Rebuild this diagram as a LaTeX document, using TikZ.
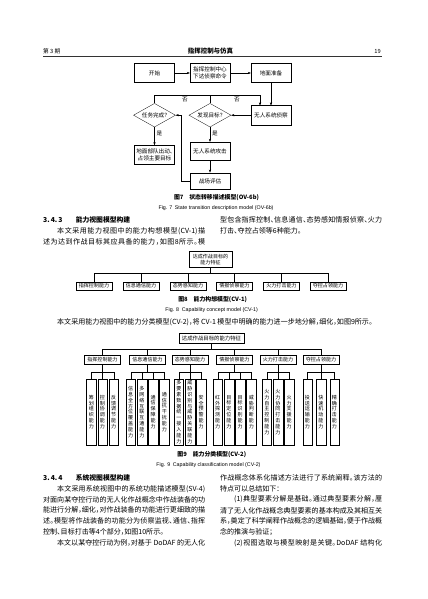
\documentclass[tikz,border=0pt]{standalone}
\usepackage{fontspec}
\setmainfont{Noto Sans CJK SC}[RawFeature=+halt]
\newfontfamily\enfont{Liberation Sans}
\usetikzlibrary{arrows.meta,shapes.geometric}
% stretchable glue between CJK characters, so that single lines can be justified
\XeTeXinterchartokenstate=1
\count255="3000
\loop\XeTeXcharclass\count255=8 \ifnum\count255<"303F \advance\count255 by 1 \repeat
\count255="4E00
\loop\XeTeXcharclass\count255=8 \ifnum\count255<"9FFF \advance\count255 by 1 \repeat
\count255="FF01
\loop\XeTeXcharclass\count255=8 \ifnum\count255<"FF5E \advance\count255 by 1 \repeat
\XeTeXinterchartoks 8 8 = {\hskip 0pt plus 1.5pt minus 0.2pt\relax}
\XeTeXinterchartoks 8 0 = {\hskip 0pt plus 1.5pt minus 0.2pt\relax}
\XeTeXinterchartoks 0 8 = {\hskip 0pt plus 1.5pt minus 0.2pt\relax}
\newlength\colw
\setlength\colw{79.4mm}
\newcommand\jl[1]{\hbox to \colw{#1}}
\newcommand\jli[1]{\hbox to \colw{\hskip2em#1}}
\makeatletter
\newcommand\vstack[1]{\expandafter\vst@ck#1\@nil}
\def\vst@ck#1#2\@nil{#1\ifx\relax#2\relax\else\\\vst@ck#2\@nil\fi}
\makeatother

\begin{document}
\begin{tikzpicture}[x=0.49mm, y=-0.49mm,
    conn/.style={draw=black, line width=0.4pt},
    arr/.style={conn, -{Stealth[length=1.5mm, width=1.1mm]}},
    proc/.style={draw=black, line width=0.4pt, minimum width=19.6mm, minimum height=9.4mm,
                 inner sep=1pt, align=center, font=\fontsize{7.8pt}{9.4pt}\selectfont},
    dec/.style={diamond, aspect=1.75, draw=black, line width=0.4pt, minimum width=20.6mm,
                minimum height=11.6mm, inner sep=0pt, font=\fontsize{7.8pt}{9pt}\selectfont},
    lab/.style={inner sep=0pt, font=\fontsize{7.8pt}{9pt}\selectfont},
    capbox/.style={draw=black, line width=0.4pt, minimum width=17.6mm, minimum height=4.2mm,
                inner sep=0.5pt, align=center, font=\fontsize{7pt}{8.4pt}\selectfont},
    leaf/.style={draw=black, line width=0.4pt, minimum width=4.65mm, minimum height=32.3mm,
                 inner sep=0pt, text width=7.5pt, align=center, font=\fontsize{7pt}{8.2pt}\selectfont},
    body/.style={anchor=west, inner sep=0pt, font=\fontsize{9.8pt}{11pt}\selectfont},
    head/.style={anchor=west, inner sep=0pt, font=\fontsize{9.5pt}{11pt}\selectfont\bfseries},
    figzh/.style={inner sep=0pt, font=\fontsize{8.2pt}{9pt}\selectfont\bfseries},
    figen/.style={inner sep=0pt, font=\enfont\fontsize{7.4pt}{9pt}\selectfont},
    hdr/.style={inner sep=0pt, font=\fontsize{8pt}{9pt}\selectfont}]
  \useasboundingbox (0,0) rectangle (427,599);
  % running head
  \node[hdr, anchor=west] (issue) at (43,51) {第 3 期};
  \node[hdr, font=\fontsize{9pt}{10pt}\selectfont\bfseries] (journal) at (210.5,51) {指挥控制与仿真};
  \node[hdr, anchor=east] (pageno) at (381,51) {19};
  \draw[line width=1pt, black!80] (43,56) -- (382,56);

  % fig 7: state transitions
  \node[proc] (start) at (154.5,73) {开始};
  \node[proc] (order) at (210,73) {指挥控制中心\\下达侦察命令};
  \node[proc] (prep) at (271,73) {地面准备};
  \node[proc] (recon) at (271,115.2) {无人系统侦察};
  \node[dec] (found) at (210,115.2) {发现目标？};
  \node[dec] (done) at (154.5,115.2) {任务完成？};
  \node[proc] (occupy) at (154.5,155) {地面部队出动、\\占领主要目标};
  \node[proc, minimum height=8.8mm] (strike) at (210,151) {无人系统攻击};
  \node[proc, minimum height=8.1mm] (assess) at (210,181) {战场评估};
  \draw[arr] (start) -- (order);
  \draw[arr] (order) -- (prep);
  \draw[arr] (prep) -- (recon);
  \draw[arr] (recon) -- (found);
  \coordinate (noR) at (260,95);
  \draw[arr] (done.north) |- (noR) -- (noR |- recon.north);
  \draw[conn] (found.north) -- (found.north |- noR);
  \draw[arr] (done) -- (occupy);
  \draw[arr] (found) -- (strike);
  \draw[arr] (strike) -- (assess);
  \coordinate (back) at (181,0);
  \draw[arr] (assess.west) -| (back |- done.east) -- (done.east);
  \node[lab] (no1) at (185,100) {否};
  \node[lab] (no2) at (237,100) {否};
  \node[lab] (yes1) at (159.5,133) {是};
  \node[lab] (yes2) at (215,133) {是};
  \node[figzh] (cap7) at (216.5,197.3) {图7\quad 状态转移描述模型(OV-6b)};
  \node[figen] (cap7e) at (216,207.7) {Fig. 7\enspace State transition description model (OV-6b)};

  % 3.4.3
  \node[head] (h343) at (43,220) {\makebox[16mm][l]{3.\,4.\,3}能力视图模型构建};
  \node[body] (a1) at (43,231) {\jli{本文采用能力视图中的能力构想模型(CV-1)描}};
  \node[body] (a2) at (43,242) {\jl{述为达到作战目标其应具备的能力，如图8所示。模}};
  \node[body] (b1) at (220,220) {\jl{型包含指挥控制、信息通信、态势感知情报侦察、火力}};
  \node[body] (b2) at (220,231) {打击、夺控占领等6种能力。};

  % fig 8: capability concept
  \node[capbox, minimum width=21mm, minimum height=7.8mm] (goal8) at (210.5,259.3) {达成作战目标的\\能力特征};
  \coordinate (bus8) at (210.5,273.3);
  \draw[conn] (goal8) -- (bus8);
  \foreach \n/\x/\lbl in {c1/94/指挥控制能力, c2/141/信息通信能力, c3/188/态势感知能力,
                          c4/234.5/情报侦察能力, c5/281.5/火力打击能力, c6/328/夺控占领能力} {
    \node[capbox] (\n) at (\x,286) {\lbl};
    \draw[conn] (bus8) -| (\n.north);
  }
  \node[figzh] (cap8) at (212.7,299.3) {图8\quad 能力构想模型(CV-1)};
  \node[figen] (cap8e) at (211.7,310) {Fig. 8\enspace Capability concept model (CV-1)};

  \node[body] (m1) at (43,322) {\hspace{2em}本文采用能力视图中的能力分类模型(CV-2)，将 CV-1 模型中明确的能力进一步地分解，细化，如图9所示。};

  % fig 9: capability classification
  \node[capbox, minimum width=31.9mm, minimum height=5.2mm, font=\fontsize{7.5pt}{9pt}\selectfont] (goal9) at (211.5,338) {达成作战目标的能力特征};
  \coordinate (bus9) at (211.5,349.3);
  \draw[conn] (goal9) -- (bus9);
  \foreach \n/\x/\lbl in {zh/102.5/指挥控制能力, tx/147.5/信息通信能力, ts/190/态势感知能力,
                          qb/234.5/情报侦察能力, hl/278/火力打击能力, dk/321/夺控占领能力} {
    \node[capbox, minimum height=4.55mm] (\n) at (\x,359.7) {\lbl};
    \draw[conn] (bus9) -| (\n.north);
    \draw[conn] (\n.south) -- ++(0,7.4) coordinate (\n0);
  }
  \foreach \lbl [count=\i] in {筹划组织能力, 控制协调能力, 反馈调节能力}
    { \node[leaf] (zh\i) at ({102.5+(\i-2)*11.2},412) {\vstack{\lbl}}; \draw[conn] (zh0) -| (zh\i.north); }
  \foreach \lbl [count=\i] in {信息全方位覆盖能力, 多网络互联互通能力, 通信保障能力, 通信抗干扰能力}
    { \node[leaf] (tx\i) at ({147.5+(\i-2.5)*11.2},412) {\vstack{\lbl}}; \draw[conn] (tx0) -| (tx\i.north); }
  \foreach \lbl [count=\i] in {多要素数据统一接入能力, 威胁识别与威胁关联能力, 安全预警能力}
    { \node[leaf] (ts\i) at ({190+(\i-2)*11.2},412) {\vstack{\lbl}}; \draw[conn] (ts0) -| (ts\i.north); }
  \foreach \lbl [count=\i] in {红外探测能力, 目标定位能力, 目标识别能力, 威胁判断能力}
    { \node[leaf] (qb\i) at ({234.5+(\i-2.5)*11.2},412) {\vstack{\lbl}}; \draw[conn] (qb0) -| (qb\i.north); }
  \foreach \lbl [count=\i] in {火力自主控制能力, 火力协同打击能力, 火力支援能力}
    { \node[leaf] (hl\i) at ({278+(\i-2)*11.2},412) {\vstack{\lbl}}; \draw[conn] (hl0) -| (hl\i.north); }
  \foreach \lbl [count=\i] in {投送运输能力, 快速机动能力, 精确打击能力}
    { \node[leaf] (dk\i) at ({321+(\i-2)*13.5},412) {\vstack{\lbl}}; \draw[conn] (dk0) -| (dk\i.north); }
  \node[figzh] (cap9) at (211.8,454.5) {图9\quad 能力分类模型(CV-2)};
  \node[figen] (cap9e) at (208.5,465) {Fig. 9\enspace Capability classification model (CV-2)};

  % 3.4.4
  \node[head] (h344) at (43,478) {\makebox[16mm][l]{3.\,4.\,4}系统视图模型构建};
  \node[body] (d1) at (43,488.8) {\jli{本文采用系统视图中的系统功能描述模型(SV-4)}};
  \node[body] (d2) at (43,499.6) {\jl{对面向某夺控行动的无人化作战概念中作战装备的功}};
  \node[body] (d3) at (43,510.4) {\jl{能进行分解，细化，对作战装备的功能进行更细致的描}};
  \node[body] (d4) at (43,521.2) {\jl{述。模型将作战装备的功能分为侦察监视、通信、指挥}};
  \node[body] (d5) at (43,532) {控制、目标打击等4个部分，如图10所示。};
  \node[body] (d6) at (43,542.8) {\jli{本文以某夺控行动为例，对基于 DoDAF 的无人化}};
  \node[body] (e1) at (220,478) {\jl{作战概念体系化描述方法进行了系统阐释。该方法的}};
  \node[body] (e2) at (220,488.8) {特点可以总结如下：};
  \node[body] (e3) at (220,499.6) {\jli{(1)典型要素分解是基础。通过典型要素分解，厘}};
  \node[body] (e4) at (220,510.4) {\jl{清了无人化作战概念典型要素的基本构成及其相互关}};
  \node[body] (e5) at (220,521.2) {\jl{系，奠定了科学阐释作战概念的逻辑基础，便于作战概}};
  \node[body] (e6) at (220,532) {念的推演与验证；};
  \node[body] (e7) at (220,542.8) {\jli{(2)视图选取与模型映射是关键。DoDAF 结构化}};
\end{tikzpicture}
\end{document}
